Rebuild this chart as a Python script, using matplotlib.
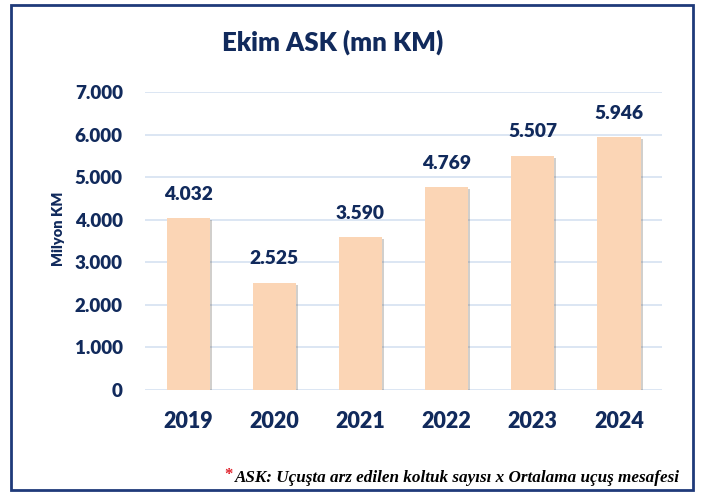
import matplotlib.pyplot as plt
import matplotlib.patheffects as pe
from matplotlib.patches import Rectangle
from matplotlib.ticker import FuncFormatter

years = ['2019', '2020', '2021', '2022', '2023', '2024']
ask = [4032, 2525, 3590, 4769, 5507, 5946]
yticks = [0, 1000, 2000, 3000, 4000, 5000, 6000, 7000]

navy = '#112A5C'
bar_color = '#FBD5B5'
grid_color = '#D5E2F1'
W = 800  # heavy weight, closest to Calibri bold

plt.rcParams['font.family'] = ['Lato', 'DejaVu Sans']


def tr_fmt(v, pos=None):
    return f'{int(v):,}'.replace(',', '.')


fig = plt.figure(figsize=(7.02, 4.95), dpi=100)
ax = fig.add_axes([0.2066, 0.2121, 0.7365, 0.602])

x = range(len(years))
bars = ax.bar(x, ask, width=0.5, color=bar_color, zorder=3,
              path_effects=[pe.SimplePatchShadow(offset=(1.5, -1.5), alpha=0.25), pe.Normal()])
for xi, v in zip(x, ask):
    ax.annotate(tr_fmt(v), (xi, v), xytext=(0, 11), textcoords='offset points',
                ha='center', va='bottom', fontsize=13.8, fontweight=W, color=navy)

ax.set_ylim(0, 7000)
ax.set_xlim(-0.5, len(years) - 0.5)
ax.set_yticks(yticks)
ax.yaxis.set_major_formatter(FuncFormatter(tr_fmt))
ax.set_xticks(list(x))
ax.set_xticklabels(years)
ax.grid(axis='y', color=grid_color, linewidth=1.2, zorder=0)
for s in ax.spines.values():
    s.set_visible(False)
ax.tick_params(length=0, colors=navy)
ax.tick_params(axis='y', labelsize=13.5, pad=16)
ax.tick_params(axis='x', labelsize=15.5, pad=15)
for lab in ax.get_xticklabels() + ax.get_yticklabels():
    lab.set_fontweight(W)
ax.set_ylabel('Milyon KM', fontsize=10.5, fontweight=W, color=navy)
ax.yaxis.set_label_coords(-0.155, 0.54)

fig.text(333 / 702, 1 - 42 / 495, 'Ekim ASK (mn KM)', ha='center', va='center',
         fontsize=18.5, fontweight=W, color=navy)

note = fig.text(680 / 702, 1 - 478 / 495, 'ASK: Uçuşta arz edilen koltuk sayısı x Ortalama uçuş mesafesi',
                ha='right', va='center', fontsize=12.3, fontweight='bold', style='italic',
                family=['Liberation Serif'], color='black')
fig.canvas.draw()
bb = note.get_window_extent()
fig.text((bb.x0 - 2) / 702, 1 - 475 / 495, '*', ha='right', va='center', fontsize=12,
         fontweight='bold', color='#E0202A', family=['Liberation Serif'])

fig.patches.append(Rectangle((11 / 702, 5 / 495), 682 / 702, 485 / 495, transform=fig.transFigure,
                             fill=False, edgecolor='#1F3A7A', linewidth=2))

plt.savefig('out.png', dpi=100)
plt.close()
